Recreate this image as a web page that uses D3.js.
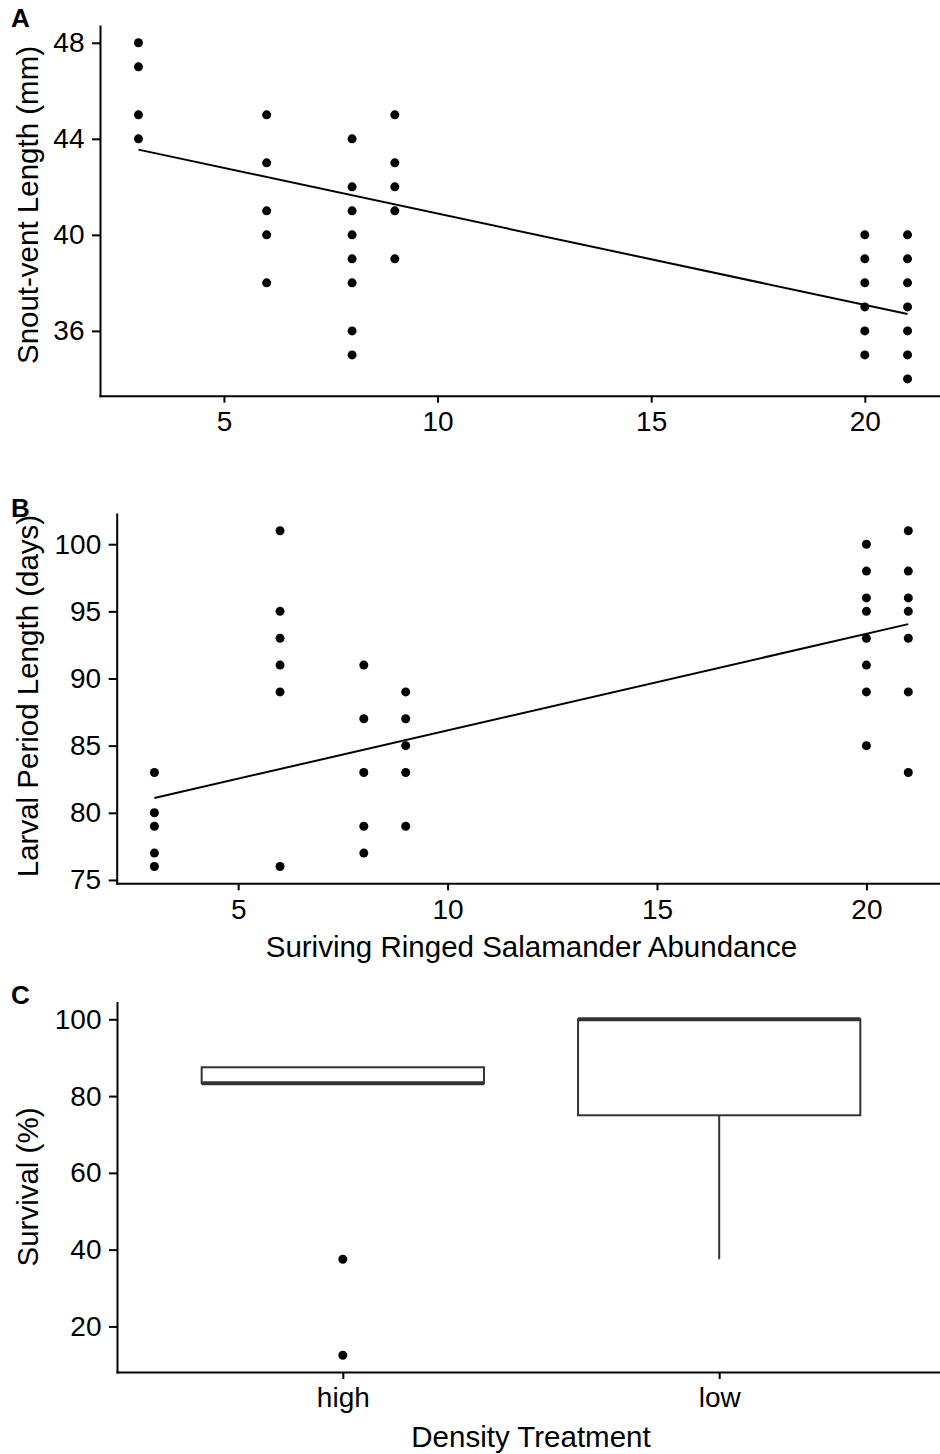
<!DOCTYPE html>
<html>
<head>
<meta charset="utf-8">
<script src="https://cdn.jsdelivr.net/npm/d3@7"></script>
<style>
  body { margin: 0; background: #fff; }
  svg { display: block; font-family: "Liberation Sans", Arial, sans-serif; }
</style>
</head>
<body>
<svg id="drawing_region"></svg>
<script>
// Panel A: snout-vent length against surviving abundance
const svlAbundance = [3, 3, 3, 3, 6, 6, 6, 6, 6, 8, 8, 8, 8, 8, 8, 8, 8, 9, 9, 9, 9, 9,
    20, 20, 20, 20, 20, 20, 21, 21, 21, 21, 21, 21, 21];
const svlLength = [48, 47, 45, 44, 45, 43, 41, 40, 38, 44, 42, 41, 40, 39, 38, 36, 35, 45, 43, 42, 41, 39,
    40, 39, 38, 37, 36, 35, 40, 39, 38, 37, 36, 35, 34];
const svlFitX = [3, 21];
const svlFitY = [43.55, 36.7];
const svlTicks = [36, 40, 44, 48];

// Panel B: larval period against surviving abundance
const larvalAbundance = [3, 3, 3, 3, 3, 6, 6, 6, 6, 6, 6, 8, 8, 8, 8, 8, 9, 9, 9, 9, 9,
    20, 20, 20, 20, 20, 20, 20, 20, 21, 21, 21, 21, 21, 21, 21];
const larvalDays = [83, 80, 79, 77, 76, 101, 95, 93, 91, 89, 76, 91, 87, 83, 79, 77, 89, 87, 85, 83, 79,
    100, 98, 96, 95, 93, 91, 89, 85, 101, 98, 96, 95, 93, 89, 83];
const larvalFitX = [3, 21];
const larvalFitY = [81.1, 94.05];
const larvalTicks = [75, 80, 85, 90, 95, 100];

const abundanceTicks = [5, 10, 15, 20];

// Panel C: survival by density treatment (box stats)
const densityGroups = ["high", "low"];
const survivalQ1 = [83.33, 75];
const survivalMedian = [83.33, 100];
const survivalQ3 = [87.5, 100];
const survivalLower = [83.33, 37.5];
const survivalUpper = [87.5, 100];
const outlierGroup = ["high", "high"];
const outlierValue = [37.5, 12.5];
const survivalTicks = [20, 40, 60, 80, 100];

const W = 940, H = 1454;
const tickFont = 28, titleFont = 29.5;
const dotR = 4.5;

const svg = d3.select('#drawing_region')
    .attr('width', W)
    .attr('height', H);

function styleAxis(g) {
    g.selectAll('path.domain')
        .attr('stroke', '#000')
        .attr('stroke-width', 2)
        .attr('stroke-linecap', 'square');
    g.selectAll('.tick line')
        .attr('stroke', '#000')
        .attr('stroke-width', 2);
    g.selectAll('.tick text')
        .attr('fill', '#000')
        .style('font-size', tickFont + 'px');
}

function panelLabel(txt, y) {
    svg.append('text')
        .attr('x', 11)
        .attr('y', y)
        .style('font-size', '26px')
        .style('font-weight', 'bold')
        .text(txt);
}

function yTitle(txt, cy) {
    svg.append('text')
        .attr('transform', `translate(38, ${cy}) rotate(-90)`)
        .attr('text-anchor', 'middle')
        .style('font-size', titleFont + 'px')
        .text(txt);
}

function xTitle(txt, cx, y) {
    svg.append('text')
        .attr('x', cx)
        .attr('y', y)
        .attr('text-anchor', 'middle')
        .style('font-size', titleFont + 'px')
        .text(txt);
}

function scatterPanel(cfg, xs, ys, fitX, fitY, yTicks) {
    const x = d3.scaleLinear().domain(cfg.xdom).range([cfg.left, cfg.right]);
    const y = d3.scaleLinear().domain(cfg.ydom).range([cfg.bottom, cfg.top]);

    const g = svg.append('g');

    g.append('g')
        .attr('transform', `translate(0, ${cfg.bottom})`)
        .call(d3.axisBottom(x).tickValues(abundanceTicks).tickSize(7).tickPadding(8.5).tickSizeOuter(0))
        .call(styleAxis);

    g.append('g')
        .attr('transform', `translate(${cfg.left}, 0)`)
        .call(d3.axisLeft(y).tickValues(yTicks).tickSize(8).tickPadding(7.5).tickSizeOuter(0))
        .call(styleAxis);

    g.append('g').selectAll('circle')
        .data(xs.map((d, i) => ({x: d, y: ys[i]})))
        .join('circle')
        .attr('cx', d => x(d.x))
        .attr('cy', d => y(d.y))
        .attr('r', dotR)
        .attr('fill', '#000');

    // fitted line
    g.append('path')
        .datum(fitX.map((d, i) => [d, fitY[i]]))
        .attr('fill', 'none')
        .attr('stroke', '#000')
        .attr('stroke-width', 2)
        .attr('d', d3.line().x(d => x(d[0])).y(d => y(d[1])));
}

// A
scatterPanel({left: 100, right: 946, top: 26, bottom: 395.7, xdom: [2.1, 21.9], ydom: [33.3, 48.7]},
    svlAbundance, svlLength, svlFitX, svlFitY, svlTicks);
panelLabel('A', 27);
yTitle('Snout-vent Length (mm)', 205);

// B
scatterPanel({left: 116.7, right: 946, top: 514, bottom: 883.3, xdom: [2.1, 21.9], ydom: [74.75, 102.25]},
    larvalAbundance, larvalDays, larvalFitX, larvalFitY, larvalTicks);
panelLabel('B', 517);
yTitle('Larval Period Length (days)', 696);
xTitle('Suriving Ringed Salamander Abundance', 531.4, 957);

// C
const cfgC = {left: 117, right: 945, top: 1002.5, bottom: 1372};
const xc = d3.scalePoint().domain(densityGroups).range([cfgC.left, cfgC.right]).padding(0.6);
const yc = d3.scaleLinear().domain([8.125, 104.375]).range([cfgC.bottom, cfgC.top]);
const boxW = xc.step() * 0.75;

const gc = svg.append('g');
gc.append('g')
    .attr('transform', `translate(0, ${cfgC.bottom})`)
    .call(d3.axisBottom(xc).tickSize(7).tickPadding(8.5).tickSizeOuter(0))
    .call(styleAxis);
gc.append('g')
    .attr('transform', `translate(${cfgC.left}, 0)`)
    .call(d3.axisLeft(yc).tickValues(survivalTicks).tickSize(8).tickPadding(7.5).tickSizeOuter(0))
    .call(styleAxis);

const boxes = densityGroups.map((k, i) => ({
    key: k, q1: survivalQ1[i], med: survivalMedian[i], q3: survivalQ3[i],
    lo: survivalLower[i], hi: survivalUpper[i]
}));

const bg = gc.append('g').selectAll('g').data(boxes).join('g');
bg.append('line')
    .attr('x1', d => xc(d.key)).attr('x2', d => xc(d.key))
    .attr('y1', d => yc(d.q1)).attr('y2', d => yc(d.lo))
    .attr('stroke', '#333').attr('stroke-width', 2);
bg.append('line')
    .attr('x1', d => xc(d.key)).attr('x2', d => xc(d.key))
    .attr('y1', d => yc(d.q3)).attr('y2', d => yc(d.hi))
    .attr('stroke', '#333').attr('stroke-width', 2);
bg.append('rect')
    .attr('x', d => xc(d.key) - boxW / 2)
    .attr('width', boxW)
    .attr('y', d => yc(d.q3))
    .attr('height', d => yc(d.q1) - yc(d.q3))
    .attr('fill', '#fff')
    .attr('stroke', '#333')
    .attr('stroke-width', 2);
bg.append('line')
    .attr('x1', d => xc(d.key) - boxW / 2).attr('x2', d => xc(d.key) + boxW / 2)
    .attr('y1', d => yc(d.med)).attr('y2', d => yc(d.med))
    .attr('stroke', '#333').attr('stroke-width', 4);

gc.append('g').selectAll('circle')
    .data(outlierValue.map((v, i) => ({g: outlierGroup[i], v: v})))
    .join('circle')
    .attr('cx', d => xc(d.g))
    .attr('cy', d => yc(d.v))
    .attr('r', dotR)
    .attr('fill', '#000');

panelLabel('C', 1004);
yTitle('Survival (%)', 1187);
xTitle('Density Treatment', 531, 1447);
</script>
</body>
</html>
